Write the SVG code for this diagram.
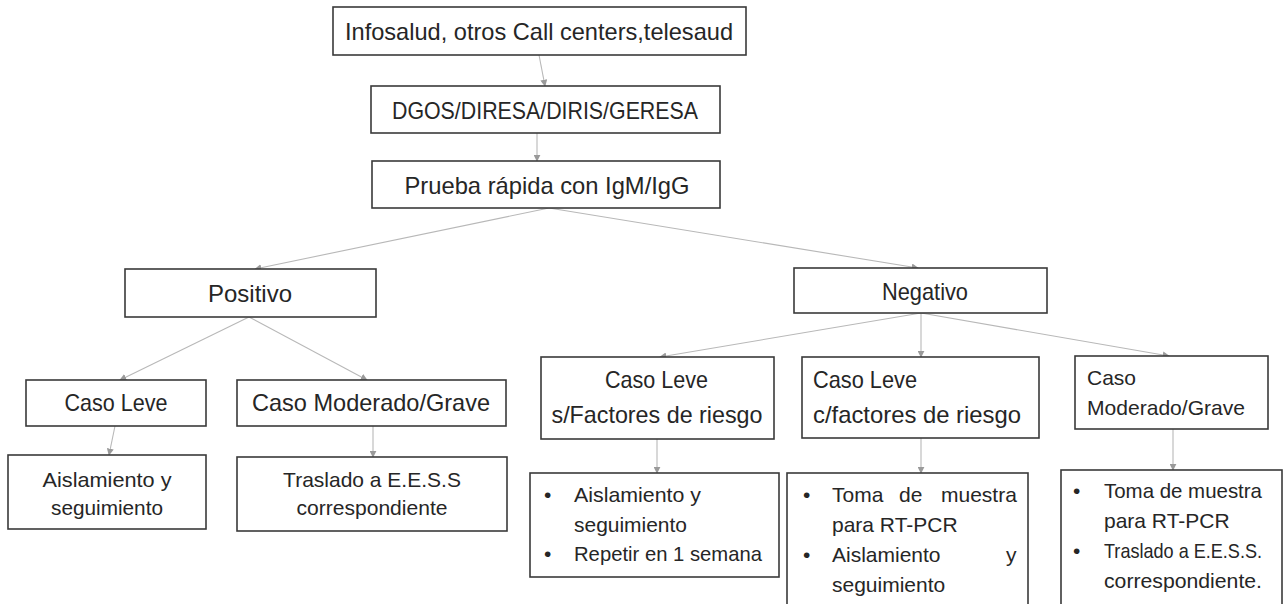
<svg xmlns="http://www.w3.org/2000/svg" width="1286" height="604" viewBox="0 0 1286 604">
<style>
  .box { fill: #ffffff; stroke: #3a3a3a; stroke-width: 1.6; }
  .t { font-family: "Liberation Sans", Arial, sans-serif; fill: #262626; }
  .big { font-size: 24px; }
  .mid { font-size: 21px; }
  .c { text-anchor: middle; }
  .conn { stroke: #b8b8b8; stroke-width: 1.1; fill: none; marker-end: url(#arr); }
</style>
<defs>
  <marker id="arr" viewBox="0 0 10 10" refX="9" refY="5" markerWidth="7" markerHeight="7" markerUnits="userSpaceOnUse" orient="auto">
    <path d="M0,0 L10,5 L0,10 z" fill="#9a9a9a"/>
  </marker>
</defs>
<rect width="1286" height="604" fill="#ffffff"/>

<g id="connectors">
  <line class="conn" x1="539" y1="55" x2="545" y2="86"/>
  <line class="conn" x1="537" y1="133" x2="537" y2="161"/>
  <line class="conn" x1="549" y1="208" x2="255" y2="269"/>
  <line class="conn" x1="549" y1="208" x2="918" y2="268"/>
  <line class="conn" x1="249" y1="317" x2="120" y2="380"/>
  <line class="conn" x1="249" y1="317" x2="367" y2="380"/>
  <line class="conn" x1="115" y1="426" x2="109" y2="455"/>
  <line class="conn" x1="373" y1="426" x2="373" y2="457"/>
  <line class="conn" x1="921" y1="313" x2="660" y2="357"/>
  <line class="conn" x1="921" y1="313" x2="921" y2="357"/>
  <line class="conn" x1="921" y1="313" x2="1169" y2="356"/>
  <line class="conn" x1="657" y1="439" x2="657" y2="473"/>
  <line class="conn" x1="921" y1="438" x2="921" y2="473"/>
  <line class="conn" x1="1173" y1="429" x2="1173" y2="470"/>
</g>

<g id="n-infosalud">
  <rect class="box" x="333" y="7" width="413" height="48"/>
  <text class="t big c" x="539" y="40" textLength="388" lengthAdjust="spacingAndGlyphs">Infosalud, otros Call centers,telesaud</text>
</g>
<g id="n-dgos">
  <rect class="box" x="371" y="86" width="349" height="47"/>
  <text class="t big c" x="545" y="119" textLength="306" lengthAdjust="spacingAndGlyphs">DGOS/DIRESA/DIRIS/GERESA</text>
</g>
<g id="n-prueba">
  <rect class="box" x="372" y="161" width="348" height="47"/>
  <text class="t big c" x="547" y="194" textLength="285" lengthAdjust="spacingAndGlyphs">Prueba rápida con IgM/IgG</text>
</g>
<g id="n-positivo">
  <rect class="box" x="125" y="269" width="251" height="48"/>
  <text class="t big c" x="250" y="302" textLength="84" lengthAdjust="spacingAndGlyphs">Positivo</text>
</g>
<g id="n-negativo">
  <rect class="box" x="794" y="268" width="253" height="45"/>
  <text class="t big c" x="925" y="300" textLength="86" lengthAdjust="spacingAndGlyphs">Negativo</text>
</g>
<g id="n-pos-leve">
  <rect class="box" x="26" y="380" width="180" height="46"/>
  <text class="t big c" x="116" y="411" textLength="103" lengthAdjust="spacingAndGlyphs">Caso Leve</text>
</g>
<g id="n-pos-grave">
  <rect class="box" x="237" y="380" width="269" height="46"/>
  <text class="t big c" x="371" y="411" textLength="238" lengthAdjust="spacingAndGlyphs">Caso Moderado/Grave</text>
</g>
<g id="n-pos-aisl">
  <rect class="box" x="8" y="455" width="198" height="74"/>
  <text class="t mid c" x="107" y="487" textLength="129" lengthAdjust="spacingAndGlyphs">Aislamiento y</text>
  <text class="t mid c" x="107" y="515" textLength="112" lengthAdjust="spacingAndGlyphs">seguimiento</text>
</g>
<g id="n-pos-traslado">
  <rect class="box" x="237" y="457" width="270" height="74"/>
  <text class="t mid c" x="372" y="487">Traslado a E.E.S.S</text>
  <text class="t mid c" x="372" y="515" textLength="151" lengthAdjust="spacingAndGlyphs">correspondiente</text>
</g>
<g id="n-neg-sfr">
  <rect class="box" x="541" y="357" width="233" height="82"/>
  <text class="t big c" x="656.5" y="388" textLength="103" lengthAdjust="spacingAndGlyphs">Caso Leve</text>
  <text class="t big c" x="657" y="423" textLength="211" lengthAdjust="spacingAndGlyphs">s/Factores de riesgo</text>
</g>
<g id="n-neg-cfr">
  <rect class="box" x="802" y="357" width="237" height="81"/>
  <text class="t big" x="813" y="388" textLength="104" lengthAdjust="spacingAndGlyphs">Caso Leve</text>
  <text class="t big" x="813" y="423" textLength="208" lengthAdjust="spacingAndGlyphs">c/factores de riesgo</text>
</g>
<g id="n-neg-grave">
  <rect class="box" x="1075" y="356" width="193" height="73"/>
  <text class="t mid" x="1087" y="385">Caso</text>
  <text class="t mid" x="1087" y="415" textLength="158" lengthAdjust="spacingAndGlyphs">Moderado/Grave</text>
</g>
<g id="n-list-a">
  <rect class="box" x="530" y="473" width="249" height="104"/>
  <text class="t mid" x="544" y="502">•</text>
  <text class="t mid" x="574" y="502" textLength="127" lengthAdjust="spacingAndGlyphs">Aislamiento y</text>
  <text class="t mid" x="574" y="532" textLength="113" lengthAdjust="spacingAndGlyphs">seguimiento</text>
  <text class="t mid" x="544" y="561">•</text>
  <text class="t mid" x="574" y="561" textLength="188" lengthAdjust="spacingAndGlyphs">Repetir en 1 semana</text>
</g>
<g id="n-list-b">
  <rect class="box" x="787" y="473" width="241" height="150"/>
  <text class="t mid" x="803" y="502">•</text>
  <text class="t mid" y="502"><tspan x="832">Toma</tspan><tspan x="899">de</tspan><tspan x="941">muestra</tspan></text>
  <text class="t mid" x="832" y="532">para RT-PCR</text>
  <text class="t mid" x="803" y="562">•</text>
  <text class="t mid" y="562"><tspan x="832">Aislamiento</tspan><tspan x="1006">y</tspan></text>
  <text class="t mid" x="832" y="592">seguimiento</text>
</g>
<g id="n-list-c">
  <rect class="box" x="1061" y="470" width="221" height="150"/>
  <text class="t mid" x="1073" y="498">•</text>
  <text class="t mid" x="1104" y="498" textLength="158" lengthAdjust="spacingAndGlyphs">Toma de muestra</text>
  <text class="t mid" x="1104" y="528">para RT-PCR</text>
  <text class="t mid" x="1073" y="558">•</text>
  <text class="t mid" x="1104" y="558" textLength="158" lengthAdjust="spacingAndGlyphs">Traslado a E.E.S.S.</text>
  <text class="t mid" x="1104" y="588" textLength="158" lengthAdjust="spacingAndGlyphs">correspondiente.</text>
</g>
</svg>
